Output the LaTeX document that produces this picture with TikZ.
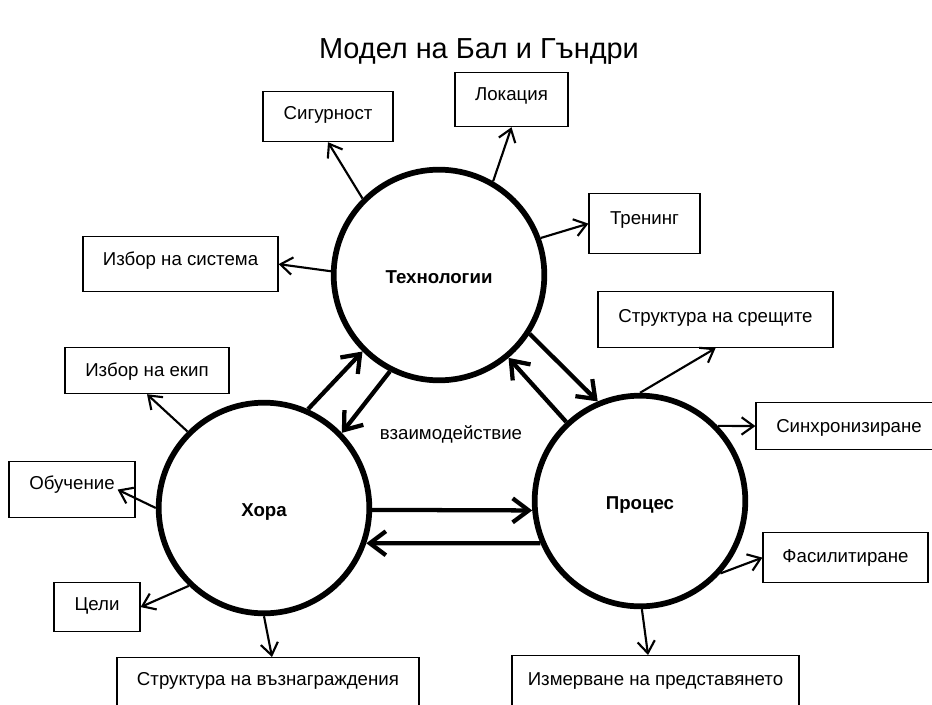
\documentclass[tikz,border=0pt]{standalone}
\usepackage{fontspec}
\setmainfont{Liberation Sans}
\usetikzlibrary{arrows.meta}
\begin{document}
\begin{tikzpicture}[x=0.75pt,y=-0.75pt,
  every node/.style={font=\fontsize{14}{16}\selectfont},
  hub/.style={circle, draw, line width=4.3pt, minimum size=158pt, inner sep=0pt,
    text height=12pt, text depth=0pt, font=\fontsize{14}{16}\selectfont\bfseries},
  box/.style={draw, line width=0.9pt, inner sep=0pt, anchor=north},
  linkthin/.style={line width=1.6pt, -{Straight Barb[length=9pt,width=13pt]}},
  linkthick/.style={line width=3.2pt, -{Straight Barb[length=12pt,width=18pt]}},
]
\useasboundingbox (0,0) rectangle (932,704);

% title
\node[font=\fontsize{21.7}{24}\selectfont, anchor=base] (title) at (479,58) {Модел на Бал и Гъндри};

% hubs
\node[hub] (tech) at (439,275) {Технологии};
\node[hub] (people) at (264,508) {Хора};
\node[hub] (proc) at (640,501) {Процес};

\node[anchor=base] (inter) at (451,439) {взаимодействие};

% boxes
\node[box, minimum width=97.5pt, text height=20.6pt, text depth=16.9pt] (sig) at (328,91) {Сигурност};
\node[box, minimum width=84.75pt, text height=20.6pt, text depth=19.9pt] (lok) at (511.5,72) {Локация};
\node[box, minimum width=83.25pt, text height=22.9pt, text depth=22.1pt] (tren) at (644.5,193) {Тренинг};
\node[box, minimum width=146.25pt, text height=21.4pt, text depth=19.9pt] (sys) at (180.5,236) {Избор на система};
\node[box, minimum width=123pt, text height=21.4pt, text depth=13.1pt] (ekip) at (147,347) {Избор на екип};
\node[box, minimum width=94.5pt, text height=20.6pt, text depth=21.4pt] (obu) at (72,461) {Обучение};
\node[box, minimum width=64.5pt, text height=20.6pt, text depth=16.1pt] (celi) at (97,582) {Цели};
\node[box, minimum width=226.5pt, text height=20.6pt, text depth=30pt] (vaz) at (268,657) {Структура на възнаграждения};
\node[box, minimum width=215.25pt, text height=22.1pt, text depth=30pt] (izm) at (655.5,655) {Измерване на представянето};
\node[box, minimum width=176.25pt, text height=22.9pt, text depth=19.1pt] (sresh) at (715.5,291) {Структура на срещите};
\node[box, minimum width=139.5pt, text height=22.1pt, text depth=13.1pt] (sync) at (849,402) {Синхронизиране};
\node[box, minimum width=123.75pt, text height=22.1pt, text depth=15.4pt] (fas) at (845.5,532) {Фасилитиране};

% thin connectors
\draw[linkthin] (tech.135) -- (sig.south);
\draw[linkthin] (tech.60) -- (lok.south);
\draw[linkthin] (tech.20) -- (tren.west);
\draw[linkthin] (tech.178) -- (sys.east);
\draw[linkthin] (people.135) -- (ekip.south);
\draw[linkthin] (people.180) -- ([xshift=-13.5pt]obu.east);
\draw[linkthin] (people.226) -- (celi.east);
\draw[linkthin] (people.270) -- ([xshift=3pt]vaz.north);
\draw[linkthin] (proc.90) -- (sresh.south);
\draw[linkthin] (proc.44) -- (sync.west);
\draw[linkthin] (proc.318) -- (fas.west);
\draw[linkthin] (proc.271) -- ([xshift=-5.6pt]izm.north);

% thick connectors
\draw[linkthick] (people.66) -- (tech.225);
\draw[linkthick] (tech.243) -- (people.44);
\draw[linkthick] (tech.327) -- (proc.113);
\draw[linkthick] (proc.133) -- (tech.310);
\draw[linkthick] (people.359) -- (proc.185);
\draw[linkthick] (proc.203) -- (people.341);
\end{tikzpicture}
\end{document}
